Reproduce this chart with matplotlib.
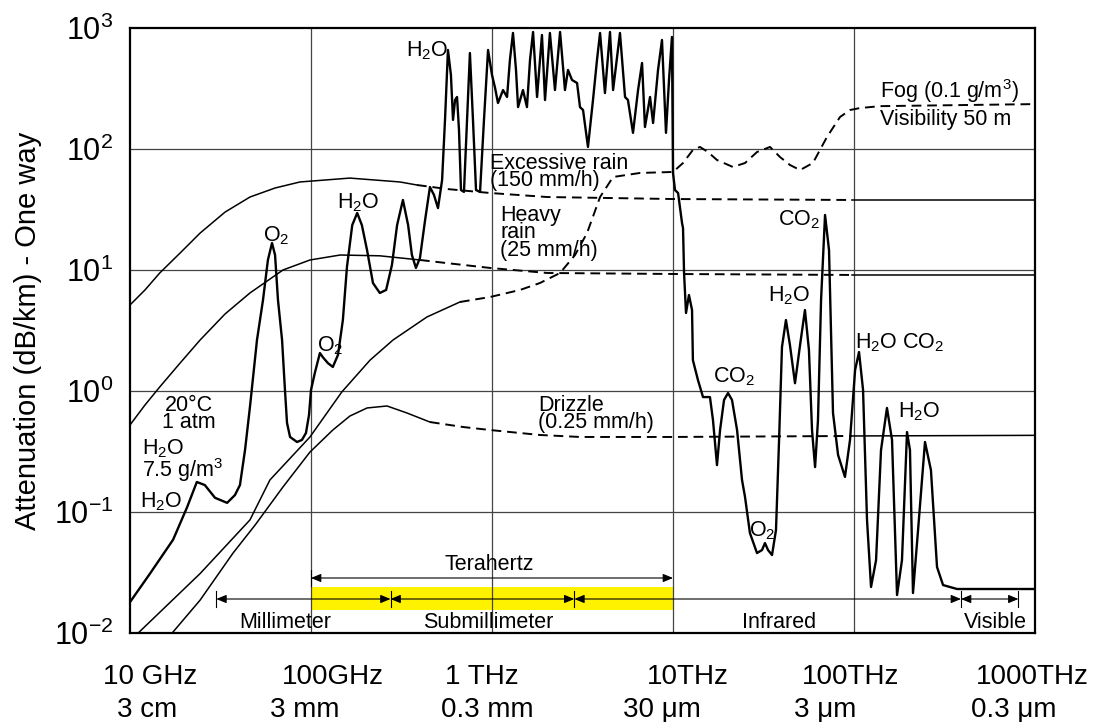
import matplotlib
matplotlib.use('Agg')
import matplotlib.pyplot as plt

plt.rcParams['font.family'] = 'Liberation Sans'
plt.rcParams['mathtext.fontset'] = 'custom'
plt.rcParams['mathtext.rm'] = 'Liberation Sans'
plt.rcParams['mathtext.it'] = 'Liberation Sans'
plt.rcParams['mathtext.bf'] = 'Liberation Sans:bold'

# clear-air attenuation (20 C, 1 atm, 7.5 g/m3 H2O), frequency in GHz, dB/km
gas_f = [10, 12.9, 17.3, 20.7, 23.4, 25.9, 29.5, 34.4, 38.0, 40.5,
         43.2, 46.0, 50.3, 54.3, 57.8, 60.9, 63.3, 65.7, 69.2, 71.8,
         73.7, 76.6, 83.7, 89.1, 93.8, 97.5, 100, 105, 112, 116,
         124, 132, 141, 150, 158, 169, 180, 191, 204, 220,
         240, 260, 280, 299, 322, 344, 361, 380, 400, 427,
         454, 478, 503, 530, 550, 571, 593, 609, 625, 641,
         657, 674, 700, 728, 755, 785, 816, 859, 903, 951,
         1000, 1040, 1079, 1151, 1211, 1256, 1306, 1357, 1393, 1483,
         1560, 1622, 1686, 1774, 1888, 1963, 2089, 2228, 2377, 2530,
         2630, 2767, 2951, 3063, 3184, 3390, 3614, 3802, 3954, 4207,
         4487, 4667, 5093, 5433, 5637, 6012, 6412, 6745, 7000, 7466,
         7762, 8266, 8693, 9146, 9506, 9867, 10000, 10257, 10666, 11220,
         11360, 11510, 11800, 12250, 12740, 12880, 13740, 14650, 16000, 16630,
         17500, 18200, 19140, 20140, 21180, 22590, 24060, 25000, 26610, 29110,
         31040, 32210, 33500, 35240, 37070, 38550, 40000, 42070, 44260, 47210,
         50350, 53580, 56370, 58620, 60950, 63240, 65770, 69180, 72780, 76560,
         81660, 89130, 95060, 101400, 106600, 112200, 118000, 124200, 132400, 141000,
         152100, 162200, 172900, 184100, 196300, 203800, 211800, 225900, 246700, 266100,
         287500, 310500, 370700, 1000000]
gas_a = [0.018, 0.031, 0.059, 0.11, 0.177, 0.167, 0.131, 0.119, 0.138, 0.167,
         0.325, 0.74, 2.64, 5.65, 12.1, 16.7, 13.3, 5.65, 2.64, 1.02,
         0.545, 0.417, 0.379, 0.394, 0.45, 0.634, 1.02, 1.41, 2.06, 1.91,
         1.70, 1.58, 1.99, 3.86, 10.6, 23.5, 29.6, 23.5, 14.6, 7.8,
         6.46, 6.84, 11.0, 23.5, 37.9, 23.5, 13.3, 10.4, 12.6, 25.9,
         48.5, 41.7, 32.5, 55.4, 174, 658, 409, 174, 254, 269,
         144, 45.8, 44.2, 174, 621, 174, 45.8, 44.2, 174, 658,
         409, 319, 240, 307, 269, 544, 910, 450, 222, 307,
         222, 544, 927, 269, 875, 254, 910, 307, 927, 307,
         450, 372, 351, 222, 210, 104, 254, 544, 910, 290,
         927, 307, 910, 269, 254, 136, 307, 514, 152, 269,
         164, 450, 796, 136, 372, 843, 63.4, 45.8, 43.3, 24.4,
         22.2, 9.45, 4.41, 6.21, 4.67, 1.80, 1.23, 0.891, 0.891, 0.575,
         0.244, 0.476, 0.843, 0.962, 0.843, 0.476, 0.184, 0.133, 0.067, 0.0458,
         0.0485, 0.0554, 0.0485, 0.0441, 0.071, 0.394, 2.31, 3.86, 2.40, 1.16,
         2.40, 4.67, 2.18, 0.476, 0.235, 0.575, 5.65, 28.5, 14.6, 0.658,
         0.296, 0.195, 0.394, 1.49, 2.10, 1.02, 0.086, 0.024, 0.040, 0.325,
         0.724, 0.394, 0.0206, 0.040, 0.458, 0.325, 0.0214, 0.071, 0.379, 0.222,
         0.0351, 0.0249, 0.0231, 0.0231]

# rain and fog curves
rain150_f = [10, 12.1, 14.6, 18.9, 24.4, 33.5, 46.0, 63.3, 86.9, 164, 310, 385,
             564, 975, 2014, 10000, 97500, 1e6]
rain150_a = [5.14, 6.84, 9.45, 13.8, 20.2, 30.1, 40.1, 47.6, 53.4, 57.5, 53.4, 50.4,
             46.7, 43.3, 40.1, 38.6, 37.9, 37.9]
rain25_f = [10, 12.1, 14.6, 18.9, 24.4, 33.5, 46.0, 70.0, 98.7, 145, 240, 400,
            564, 975, 2014, 10000, 97500, 1e6]
rain25_a = [0.524, 0.766, 1.08, 1.70, 2.64, 4.33, 6.46, 10.0, 12.1, 13.3, 13.1, 12.1,
            11.4, 10.4, 9.45, 9.27, 9.1, 9.1]
drizzle_f = [17.1, 24.4, 37.1, 49.1, 70.0, 98.7, 132, 164, 204, 263, 339, 454,
             692, 975, 1841, 3063, 10000, 97500, 1e6]
drizzle_a = [0.01, 0.0187, 0.0458, 0.078, 0.161, 0.313, 0.476, 0.621, 0.724, 0.752, 0.658, 0.554,
             0.504, 0.476, 0.433, 0.417, 0.417, 0.425, 0.43]
fog_f = [11.1, 24.4, 46.0, 59.3, 98.7, 148, 212, 284, 437, 665,
         975, 1429, 1841, 2377, 2876, 3350, 3954, 4667, 6577, 10000,
         11360, 12880, 14090, 15600, 17500, 21430, 25000, 29110, 34360, 38990,
         44260, 50350, 59290, 70960, 83750, 95060, 107900, 139300, 1e6]
fog_a = [0.01, 0.031, 0.086, 0.184, 0.417, 0.982, 1.80, 2.64, 4.09, 5.44,
         5.98, 6.84, 7.81, 9.45, 13.3, 20.2, 40.1, 58.7, 63.4, 64.6,
         76.6, 98.2, 104, 94.4, 81.1, 71.0, 76.6, 94.4, 104, 85.9,
         73.8, 67.0, 76.6, 126, 184, 210, 218, 226, 235]

# spectral bands (GHz)
band_edges = [30, 275, 2850, 390000, 810000]
band_names = ['Millimeter', 'Submillimeter', 'Infrared', 'Visible']
thz_range = [100, 10000]

y_ticks = [1e-2, 1e-1, 1, 10, 100, 1000]
y_labels = ['$10^{-2}$', '$10^{-1}$', '$10^{0}$', '$10^{1}$', '$10^{2}$', '$10^{3}$']
freq_labels = ['10 GHz', '100GHz', '1 THz', '10THz', '100THz', '1000THz']
wave_labels = ['3 cm', '3 mm', '0.3 mm', '30 \u03bcm', '3 \u03bcm', '0.3 \u03bcm']


def P(x, y):
    # reference pixel -> axes fraction
    return (x - 130) / 905, (633 - y) / 605


fig = plt.figure(figsize=(10.94, 7.22), dpi=100)
ax = fig.add_axes([130 / 1094, 89 / 722, 905 / 1094, 605 / 722])
ax.set_xscale('log')
ax.set_yscale('log')
ax.set_xlim(10, 1e6)
ax.set_ylim(1e-2, 1e3)

for f in [1e2, 1e3, 1e4, 1e5]:
    ax.axvline(f, color='#444444', lw=0.9, zorder=1)
for a in [1e-1, 1, 10, 100]:
    ax.axhline(a, color='#444444', lw=0.9, zorder=1)

ax.set_xticks([])
ax.set_xticks([], minor=True)
ax.set_yticks(y_ticks)
ax.set_yticklabels(y_labels, fontsize=22)
ax.set_yticks([], minor=True)
ax.tick_params(axis='y', length=0, pad=12)
for s in ax.spines.values():
    s.set_linewidth(1.6)

dash = (0, (5, 3))


def draw_split(f, a, i0, i1):
    ax.plot(f[:i0 + 1], a[:i0 + 1], color='k', lw=1.1, zorder=2)
    ax.plot(f[i0:i1 + 1], a[i0:i1 + 1], color='k', ls=dash, lw=1.4, zorder=2)
    if i1 < len(f) - 1:
        ax.plot(f[i1:], a[i1:], color='k', lw=1.1, zorder=2)


draw_split(rain150_f, rain150_a, 11, 16)
draw_split(rain25_f, rain25_a, 11, 16)
draw_split(drizzle_f, drizzle_a, 11, 17)
draw_split(fog_f, fog_a, 9, len(fog_f) - 1)
ax.plot(gas_f, gas_a, color='k', lw=1.7, zorder=3, solid_joinstyle='round')

# bands at the bottom
trans = ax.get_xaxis_transform()
ax.axvspan(thz_range[0], thz_range[1], ymin=P(0, 610)[1], ymax=P(0, 587)[1],
           color='#fff200', lw=0, zorder=0.5)
arrow = dict(arrowstyle='<|-|>,head_length=0.6,head_width=0.25', color='k',
             lw=0.8, shrinkA=0, shrinkB=0)
yb = P(0, 599)[1]
for i in range(len(band_names)):
    ax.annotate('', xy=(band_edges[i + 1], yb), xytext=(band_edges[i], yb),
                xycoords=trans, textcoords=trans, arrowprops=arrow, zorder=2)
for f in band_edges:
    ax.plot([f, f], [yb - 0.013, yb + 0.013], transform=trans, color='k', lw=0.8)
yt = P(0, 578)[1]
ax.annotate('', xy=(thz_range[1], yt), xytext=(thz_range[0], yt),
            xycoords=trans, textcoords=trans, arrowprops=arrow, zorder=2)
ax.plot([thz_range[0]] * 2, [yt - 0.013, yt + 0.013], transform=trans, color='k', lw=0.8)

for name, x in zip(band_names, [285, 488, 779, 995]):
    ax.text(*P(x, 623), name, transform=ax.transAxes, fontsize=15.5,
            ha='center', va='center')
ax.text(*P(489, 565), 'Terahertz', transform=ax.transAxes, fontsize=15.5,
        ha='center', va='center')

# annotations
notes = [
    ('H$_2$O', 427, 51, 'center'),
    ('Excessive rain\n(150 mm/h)', 490, 172, 'left'),
    ('Heavy\nrain\n(25 mm/h)', 500, 233, 'left'),
    ('Drizzle\n(0.25 mm/h)', 538, 414, 'left'),
    ('Fog (0.1 g/m$^3$)', 880, 91, 'left'),
    ('Visibility 50 m', 880, 119, 'left'),
    ('CO$_2$', 799, 220, 'center'),
    ('H$_2$O', 789, 296, 'center'),
    ('H$_2$O CO$_2$', 900, 343, 'center'),
    ('CO$_2$', 734, 377, 'center'),
    ('H$_2$O', 919, 412, 'center'),
    ('O$_2$', 762, 531, 'center'),
    ('O$_2$', 276, 236, 'center'),
    ('H$_2$O', 358, 203, 'center'),
    ('O$_2$', 330, 346, 'center'),
    ('20\u00b0C\n1 atm', 189, 414, 'center'),
    ('H$_2$O\n7.5 g/m$^3$', 142, 461, 'left'),
    ('H$_2$O', 140, 502, 'left'),
]
for txt, x, y, ha in notes:
    ax.text(*P(x, y), txt, transform=ax.transAxes, fontsize=15.5, ha=ha,
            va='center', linespacing=0.8, zorder=4)

# x labels
for lab, x in zip(freq_labels, [150, 333, 482, 688, 851, 1032]):
    ax.text(*P(x, 677), lab, transform=ax.transAxes, fontsize=20, ha='center', va='center')
for lab, x in zip(wave_labels, [147, 305, 487, 662, 825, 1014]):
    ax.text(*P(x, 710), lab, transform=ax.transAxes, fontsize=20, ha='center', va='center')

fig.text(28 / 1094, 1 - 331 / 722, 'Attenuation (dB/km) - One way', rotation=90,
         fontsize=21, ha='center', va='center')

fig.savefig('out.png', dpi=100)
